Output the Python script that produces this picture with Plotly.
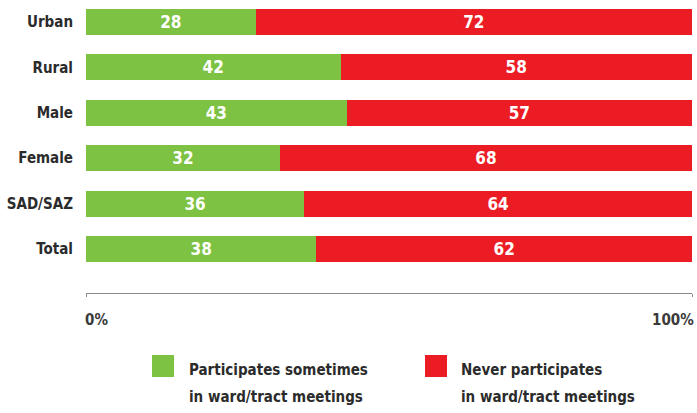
import plotly.graph_objects as go

categories = ["Urban", "Rural", "Male", "Female", "SAD/SAZ", "Total"]
sometimes = [28, 42, 43, 32, 36, 38]
never = [72, 58, 57, 68, 64, 62]
series_names = [["Participates sometimes", "in ward/tract meetings"],
                ["Never participates", "in ward/tract meetings"]]
axis_labels = ["0%", "100%"]

GREEN = "#7dc242"
RED = "#ec1c24"
FONT = "DejaVu Sans Condensed, Liberation Sans Narrow, Roboto, sans-serif"
TEXT = "#2b2b2b"

# plot area in pixels
L, R, T, B = 86, 692, 5, 293
W_PX, H_PX = R - L, B - T


def px_x(x):
    return (x - L) / W_PX


def px_y(y):
    return (B - y) / H_PX


fig = go.Figure()
for vals, color, name in [(sometimes, GREEN, " ".join(series_names[0])),
                          (never, RED, " ".join(series_names[1]))]:
    fig.add_trace(go.Bar(
        y=categories, x=vals, orientation="h", name=name,
        marker=dict(color=color, line=dict(width=0)),
        text=[str(v) for v in vals], textposition="inside",
        insidetextanchor="middle", textangle=0,
        textfont=dict(color="white", size=17, family=FONT, weight="bold"),
        width=0.57, showlegend=False, hoverinfo="skip",
    ))

fig.update_layout(
    barmode="stack",
    width=697, height=413,
    margin=dict(l=L, r=697 - R, t=T, b=413 - B),
    paper_bgcolor="white", plot_bgcolor="white",
    font=dict(family=FONT, color=TEXT, size=15),
    uniformtext=dict(minsize=17, mode="show"),
    xaxis=dict(range=[0, 100], showgrid=False, zeroline=False,
               showline=True, linecolor="#8a8a8a", linewidth=1,
               tickvals=[0, 100], ticks="outside", ticklen=3,
               tickcolor="#8a8a8a", showticklabels=False, fixedrange=True),
    yaxis=dict(range=[5.97, -0.374], showgrid=False, zeroline=False,
               showline=False, ticks="", ticklabelstandoff=12,
               tickfont=dict(size=15, color=TEXT, family=FONT, weight="bold")),
)

# Axis end labels
fig.add_annotation(x=0, y=px_y(320), xref="x", yref="paper", text=axis_labels[0],
                   showarrow=False, xanchor="left", yanchor="middle", xshift=-3,
                   font=dict(size=15, color="#3a3a3a", family=FONT, weight="bold"))
fig.add_annotation(x=100, y=px_y(320), xref="x", yref="paper", text=axis_labels[1],
                   showarrow=False, xanchor="right", yanchor="middle", xshift=4,
                   font=dict(size=15, color="#3a3a3a", family=FONT, weight="bold"))

# Legend: colour swatches with two-line labels
legend_items = [(GREEN, series_names[0], 152, 187), (RED, series_names[1], 425, 459)]
for color, lines, sx, tx in legend_items:
    fig.add_shape(type="rect", xref="paper", yref="paper",
                  x0=px_x(sx), x1=px_x(sx + 22),
                  y0=px_y(377), y1=px_y(355),
                  fillcolor=color, line=dict(width=0))
    for line, cy in zip(lines, [370, 397]):
        fig.add_annotation(x=px_x(tx), y=px_y(cy), xref="paper", yref="paper",
                           text=line, showarrow=False,
                           xanchor="left", yanchor="middle", align="left",
                           font=dict(size=15, color=TEXT, family=FONT, weight="bold"))

fig.write_html("out.html")
